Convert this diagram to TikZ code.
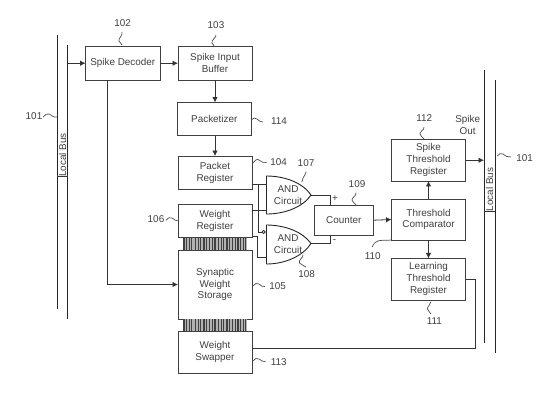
\documentclass[tikz,border=0pt]{standalone}
\usepackage{fontspec}
\setmainfont{Liberation Sans}
\usetikzlibrary{arrows.meta}
\tikzset{
  wire/.style={draw=black!80,line width=0.8bp},
  arrowwire/.style={wire,-{Latex[length=5.5bp,width=5.5bp]}},
  busline/.style={draw=black!85,line width=1bp},
  blockbox/.style={draw=black!75,line width=0.9bp,fill=white,align=center,inner sep=0pt,outer sep=0pt,font=\diatext,text=black!75},
  gatebody/.style={draw=black!85,line width=0.9bp,fill=white},
  plain/.style={align=center,inner sep=0pt,font=\diatext,text=black!75},
  squiggle/.style={draw=black!70,line width=0.7bp},
  stripes/.style={draw=black!75,line width=1.1bp},
}
\newcommand{\diatext}{\fontsize{9.9bp}{11.8bp}\selectfont}
\newcommand{\blk}[5]{\node[blockbox,minimum width=#3 bp,minimum height=#4 bp] (#1) at (#2) {#5};}
\begin{document}
\begin{tikzpicture}[x=1bp,y=-1bp]
\useasboundingbox (0,0) rectangle (542,401);
% buses
\coordinate (la1) at (57,35); \coordinate (la2) at (57,309);
\coordinate (lb1) at (67.5,45); \coordinate (lb2) at (67.5,319);
\coordinate (ra1) at (484,70); \coordinate (ra2) at (484,343);
\coordinate (rb1) at (495,80); \coordinate (rb2) at (495,353);
\draw[busline] (la1) -- (la2);
\draw[busline] (lb1) -- (lb2);
\draw[busline] (ra1) -- (ra2);
\draw[busline] (rb1) -- (rb2);
\node[plain,rotate=90] (lbusl) at (62.5,155) {Local Bus};
\node[plain,rotate=90] (rbusl) at (489.5,189.5) {Local Bus};
\draw[wire] (57,176) -- (67.5,176);
\draw[wire] (484,211) -- (495,211);
% blocks
\blk{dec}{122.8,63.2}{74.5}{33.5}{Spike Decoder}
\blk{buf}{215,63.2}{74}{33.5}{Spike Input\\Buffer}
\blk{pkt}{214.3,119}{74}{33}{Packetizer}
\blk{preg}{215,172.8}{74}{33.5}{Packet\\Register}
\blk{wreg}{215,221}{74}{33}{Weight\\Register}
\blk{syn}{215,284.5}{74}{69}{Synaptic\\Weight\\Storage}
\blk{swap}{215,352}{74}{42}{Weight\\Swapper}
\blk{cnt}{343.8,220.2}{59.5}{29.5}{Counter}
\blk{cmp}{428.5,219.5}{74}{41}{Threshold\\Comparator}
\blk{spk}{428.5,160.2}{74}{41.5}{Spike\\Threshold\\Register}
\blk{lrn}{428.5,279.2}{74}{41.5}{Learning\\Threshold\\Register}
% striped links
\fill[black!30] (183.3,237.5) rectangle (246.7,250);
\fill[black!30] (183.3,319) rectangle (246.7,331);
\foreach \x in {184,186.6,189.2,191.8,195.6,198.2,200.8,204,206.6,209.2,212.4,215,218.6,221.2,223.8,227,229.6,232.2,235.4,238,240.6,243.2,245.8}{
  \draw[stripes] (\x,237.5) -- (\x,250);
  \draw[stripes] (\x,319) -- (\x,331);
}
% gates
\draw[gatebody] (266.5,176) .. controls (285,176) and (303,183) .. (311,195) .. controls (303,207) and (285,214) .. (266.5,214) -- cycle;
\draw[gatebody] (266.5,225) .. controls (285,225) and (303,232) .. (311,243.5) .. controls (303,256) and (285,264) .. (266.5,264) -- cycle;
\node[plain] (and1) at (288,195) {AND\\Circuit};
\node[plain] (and2) at (288,244) {AND\\Circuit};
\coordinate (a1in1) at (266.5,184);
\coordinate (a1in2) at (266.5,210);
\coordinate (a2in2) at (266.5,257);
\coordinate (a1out) at (311,195);
\coordinate (a2out) at (311,243.5);
% connectors
\coordinate (busdec) at (67.5,63.2);
\draw[arrowwire] (busdec) -- (dec.west);
\draw[arrowwire] (dec.east) -- (buf.west);
\draw[arrowwire] (buf.south) -- (pkt.north -| buf.south);
\draw[arrowwire] (pkt.south -| buf.south) -- (preg.north);
\coordinate (decdown) at (107,80);
\coordinate (turn) at (107,284.5);
\draw[arrowwire] (decdown) -- (turn) -- (syn.west);
\coordinate (pregout) at (252,184);
\coordinate (stem) at (258.7,184);
\coordinate (bub) at (262,232);
\draw[wire] (pregout) -- (a1in1);
\draw[wire] (stem) -- (258.7,232) -- (bub);
\draw[wire,fill=white] (263.6,232) circle (1.6bp);
\coordinate (wregout) at (252,210);
\draw[wire] (wregout) -- (a1in2);
\coordinate (wregout2) at (252,236);
\draw[wire] (wregout2) -- (257,236) -- (257,257) -- (a2in2);
\coordinate (cntp) at (330,205.5);
\coordinate (cntm) at (330,235);
\draw[wire] (a1out) -- (330,195) -- (cntp);
\draw[wire] (a2out) -- (330,243.5) -- (cntm);
\node[plain] (plus) at (335,199) {+};
\node[plain] (minus) at (334.5,240.5) {-};
\draw[arrowwire] (cnt.east) -- (cmp.west);
\draw[arrowwire] (cmp.north) -- (spk.south);
\draw[arrowwire] (cmp.south) -- (lrn.north);
\coordinate (spkbus) at (484,160.2);
\draw[arrowwire] (spk.east) -- (spkbus);
\coordinate (lrnturn) at (475,279.2);
\coordinate (swapout) at (252,348);
\draw[wire] (lrn.east) -- (lrnturn) -- (475,348) -- (swapout);
% reference labels
\node[plain] (n102) at (122.7,22.7) {102};
\node[plain] (n103) at (216,25.5) {103};
\node[plain] (n101a) at (34,116) {101};
\node[plain] (n114) at (279,121) {114};
\node[plain] (n104) at (278.7,161.7) {104};
\node[plain] (n107) at (306,163.3) {107};
\node[plain] (n106) at (156,219.3) {106};
\node[plain] (n108) at (306.7,274.3) {108};
\node[plain] (n105) at (277.7,286) {105};
\node[plain] (n113) at (278.7,361.7) {113};
\node[plain] (n109) at (357,184) {109};
\node[plain] (n110) at (372.7,256) {110};
\node[plain] (n112) at (424.3,118.3) {112};
\node[plain] (n101b) at (524.7,158) {101};
\node[plain] (n111) at (434.3,321) {111};
\node[plain] (sout) at (467.7,125) {Spike\\Out};
% squiggles
\draw[squiggle] (122,32) .. controls (123,36) and (118,38) .. (119,41) .. controls (120,43) and (122,44) .. (122,45);
\draw[squiggle] (216,35) .. controls (216,38) and (211,40) .. (212,43) .. controls (213,45) and (214,45) .. (214,46);
\draw[squiggle] (43,117) .. controls (45,115) and (47,113) .. (49,114) .. controls (51,115) and (54,118) .. (57,117);
\draw[squiggle] (251,120) .. controls (253,118) and (255,117) .. (257,119) .. controls (259,121) and (261,122) .. (263,122);
\draw[squiggle] (252.7,163) .. controls (255,161) and (257,158) .. (259,160) .. controls (261,162) and (264,163) .. (266.7,162.5);
\draw[squiggle] (306,171.7) .. controls (306.5,175) and (303,176) .. (303,178) .. controls (303,180) and (302,181) .. (301.7,181.7);
\draw[squiggle] (166,220.5) .. controls (168,218) and (170,216.5) .. (172,218) .. controls (174,220) and (177,221) .. (179,221);
\draw[squiggle] (303,255) .. controls (303,258) and (298,260) .. (299.5,263) .. controls (300.5,265) and (304,265) .. (306,267);
\draw[squiggle] (252.7,286) .. controls (255,284) and (257,282) .. (259,284) .. controls (261,286) and (263,287) .. (265,286.5);
\draw[squiggle] (252.7,361) .. controls (255,359) and (257,357) .. (259,359) .. controls (261,361) and (264,362) .. (265.7,361.5);
\draw[squiggle] (356,192.7) .. controls (356.5,196) and (352,197) .. (352,200) .. controls (352,202) and (355,203) .. (356,205);
\draw[squiggle] (372.3,247) .. controls (373,243) and (377,241) .. (380,240.5) .. controls (384,240) and (388,240.5) .. (391,240);
\draw[squiggle] (424,127) .. controls (424.5,130) and (420,131) .. (420,134) .. controls (420,136) and (423,137) .. (424,139);
\draw[squiggle] (497.3,156) .. controls (499,154) and (501,152.5) .. (503,154) .. controls (505,156) and (508,157.5) .. (511,157);
\draw[squiggle] (431,301.7) .. controls (431,305) and (427,306) .. (427.5,309) .. controls (428,311) and (430,312) .. (431,314);
\end{tikzpicture}
\end{document}
